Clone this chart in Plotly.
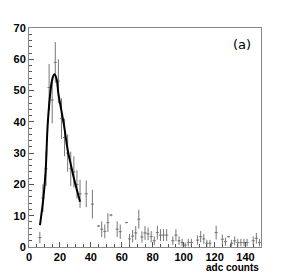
import plotly.graph_objects as go

# histogram bin centres (bin width 2), contents and errors
bin_x = [7, 9, 11, 13, 15, 17, 19, 21, 23, 25, 27, 29, 31, 33, 37, 41, 45, 47, 49, 51,
         53, 57, 59, 63, 65, 67, 69, 71, 73, 75, 77, 79, 81, 83, 85, 87, 89, 93, 95, 97,
         99, 101, 103, 105, 109, 111, 113, 115, 117, 121, 125, 127, 129, 131, 133, 135,
         137, 139, 141, 145, 147, 149]
bin_y = [3.0, 15.6, 25.0, 51.0, 47.0, 59.0, 53.0, 41.0, 35.0, 30.0, 25.0, 24.0, 20.0, 17.0,
         17.0, 13.7, 6.7, 5.7, 5.0, 7.8, 10.2, 5.7, 4.9, 7.8, 2.6, 3.5, 4.5, 8.9, 3.2, 4.5,
         4.2, 3.3, 2.0, 4.6, 3.8, 3.8, 3.8, 2.0, 3.8, 2.0, 1.4, 0.6, 1.4, 1.4, 2.2, 3.3,
         2.6, 1.2, 1.2, 4.6, 2.5, 1.7, 3.3, 1.2, 2.0, 1.4, 1.4, 1.4, 1.4, 2.0, 2.8, 1.4]
bin_err = [1.8, 4.4, 5.5, 7.5, 7.5, 6.5, 7.0, 6.5, 6.0, 6.0, 5.5, 5.0, 4.5, 4.5,
           4.3, 4.6, 0.3, 2.5, 2.2, 3.0, 0.4, 2.5, 2.3, 0.2, 1.6, 2.0, 2.2, 3.0, 1.8, 2.2,
           2.0, 1.8, 1.4, 2.2, 1.9, 1.9, 1.9, 1.4, 1.9, 1.4, 1.2, 0.8, 1.2, 1.2, 1.5, 1.8,
           1.6, 1.1, 1.1, 2.2, 1.5, 1.3, 0.2, 1.1, 1.4, 1.2, 1.2, 1.2, 1.2, 1.4, 1.7, 1.2]
half_bin = 1.0

# fitted curve
fit_x = [7.1, 9.3, 10.8, 12.0, 13.5, 15.0, 16.4, 17.8, 19.0, 20.8, 22.8, 25.0, 27.2, 29.3, 31.2, 33.0]
fit_y = [7.0, 15.6, 24.6, 38.4, 48.0, 53.5, 55.2, 53.8, 49.0, 44.0, 38.4, 31.0, 26.0, 21.4, 17.8, 14.5]

x_ticks = [0, 20, 40, 60, 80, 100, 120, 140]
y_ticks = [0, 10, 20, 30, 40, 50, 60, 70]

fig = go.Figure()
fig.add_trace(go.Scatter(
    x=bin_x, y=bin_y, mode="markers",
    marker=dict(size=1, color="#777777"),
    error_y=dict(type="data", array=bin_err, visible=True, color="#777777", thickness=1, width=0),
    error_x=dict(type="constant", value=half_bin, visible=True, color="#777777", thickness=1, width=0),
    showlegend=False, hoverinfo="skip"))
fig.add_trace(go.Scatter(
    x=fit_x, y=fit_y, mode="lines", line=dict(color="black", width=2, shape="spline"),
    showlegend=False, hoverinfo="skip"))

tickfont = dict(family="Liberation Sans, Arial, sans-serif", size=11, color="black", weight="bold")
fig.update_layout(
    width=282, height=268,
    margin=dict(l=21, r=29, t=20, b=29, autoexpand=False),
    paper_bgcolor="white", plot_bgcolor="white",
    xaxis=dict(range=[0, 150], tickvals=x_ticks, ticktext=[str(v) for v in x_ticks],
               ticks="inside", ticklen=5, tickcolor="#555555", tickwidth=1,
               minor=dict(dtick=5, ticks="inside", ticklen=3, tickcolor="#555555"),
               showgrid=False, zeroline=False, showline=True, mirror=True, automargin=False,
               linecolor="#888888", linewidth=1, tickfont=tickfont),
    yaxis=dict(range=[0, 70], tickvals=y_ticks, ticktext=[str(v) for v in y_ticks],
               ticks="inside", ticklen=5, tickcolor="#555555", tickwidth=1,
               minor=dict(dtick=2, ticks="inside", ticklen=3, tickcolor="#555555"),
               showgrid=False, zeroline=False, showline=True, mirror=True, automargin=False,
               linecolor="#888888", linewidth=1, tickfont=tickfont),
    annotations=[
        dict(text="adc counts", x=1.0, y=0, xref="paper", yref="paper",
             xanchor="right", yanchor="top", yshift=-13, showarrow=False,
             font=dict(family="Liberation Sans, Arial, sans-serif", size=10, color="black", weight="bold")),
        dict(text="(a)", x=0.965, y=0.925, xref="paper", yref="paper",
             xanchor="right", yanchor="middle", showarrow=False,
             font=dict(family="DejaVu Sans, sans-serif", size=13, color="black")),
    ],
)
fig.write_html("out.html")
